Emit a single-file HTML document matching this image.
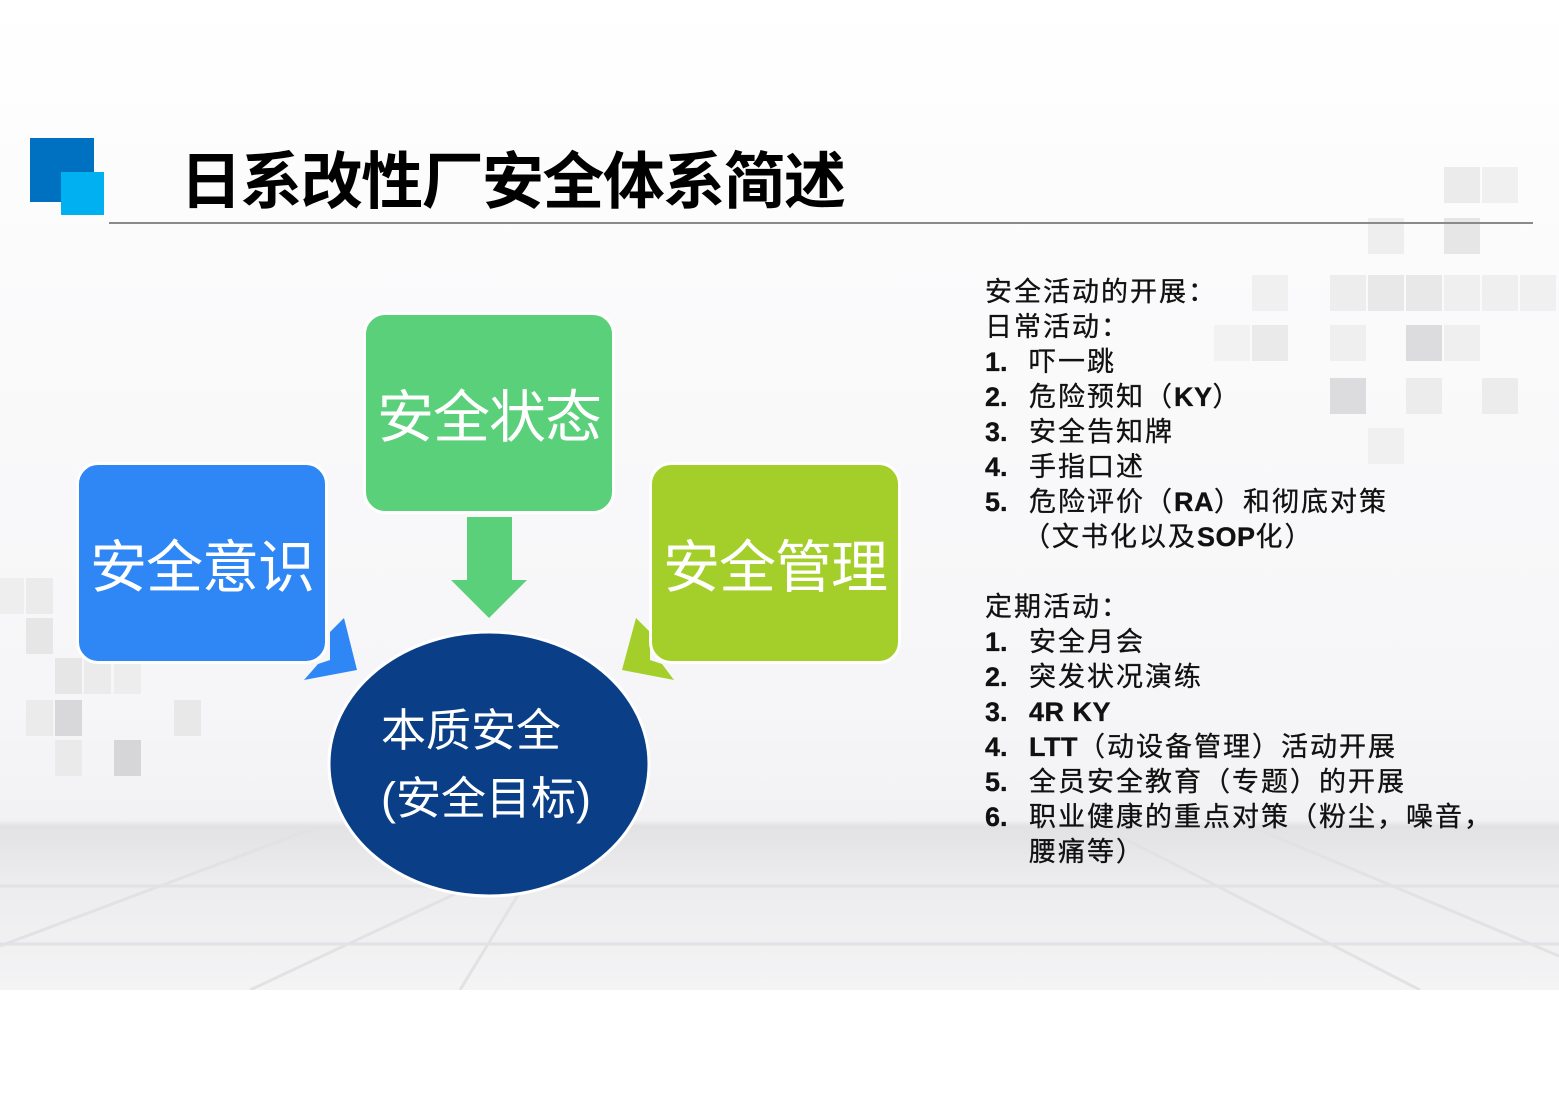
<!DOCTYPE html>
<html><head><meta charset="utf-8"><style>
*{margin:0;padding:0}
body{width:1559px;height:1102px;position:relative;overflow:hidden;background:#fff;font-family:"Liberation Sans","Noto Sans CJK SC",sans-serif}
.a{position:absolute}
.sq{position:absolute;width:36px;height:36px}
.box{position:absolute;width:246px;height:196px;border-radius:22px;border:3px solid #fff;color:#fff;font-size:57px;display:flex;align-items:center;justify-content:center;white-space:nowrap;letter-spacing:-1px}
.t{position:absolute;left:985px;font-size:27px;line-height:35px;color:#111;white-space:nowrap;letter-spacing:2px;-webkit-text-stroke:0.3px #111}
.t b{display:inline-block;width:44px;font-weight:bold;letter-spacing:0}
.t i{display:inline-block;width:38px}
.t .k{font-weight:bold;letter-spacing:0.5px}
</style></head><body>
<div class="a" style="left:0;top:0;width:1559px;height:990px;background:linear-gradient(#fff 0,#fbfbfc 250px,#f6f6f8 700px,#f2f2f4 820px,#e2e2e4 826px,#ececee 880px,#f4f4f5 990px)"></div>
<svg class="a" style="left:0;top:826px" width="1559" height="164">
<g stroke="#e2e2e4" stroke-width="3" fill="none">
<line x1="0" y1="60" x2="1559" y2="60"/><line x1="0" y1="118" x2="1559" y2="118"/>
<line x1="0" y1="120" x2="320" y2="0"/><line x1="250" y1="164" x2="600" y2="0"/><line x1="460" y1="164" x2="560" y2="0"/>
<line x1="1100" y1="0" x2="1420" y2="164"/><line x1="1250" y1="0" x2="1559" y2="130"/>
</g></svg>
<div class="sq" style="left:1444px;top:167px;background:#ebebec"></div>
<div class="sq" style="left:1482px;top:167px;background:#f0f0f1"></div>
<div class="sq" style="left:1368px;top:218px;background:#eeeeef"></div>
<div class="sq" style="left:1444px;top:218px;background:#e6e6e7"></div>
<div class="sq" style="left:1252px;top:275px;background:#f0f0f1"></div>
<div class="sq" style="left:1330px;top:275px;background:#ededee"></div>
<div class="sq" style="left:1368px;top:275px;background:#e8e8e9"></div>
<div class="sq" style="left:1406px;top:275px;background:#e8e8e9"></div>
<div class="sq" style="left:1444px;top:275px;background:#efeff0"></div>
<div class="sq" style="left:1482px;top:275px;background:#efeff0"></div>
<div class="sq" style="left:1520px;top:275px;background:#f0f0f1"></div>
<div class="sq" style="left:1214px;top:325px;background:#f2f2f3"></div>
<div class="sq" style="left:1252px;top:325px;background:#eaeaeb"></div>
<div class="sq" style="left:1330px;top:325px;background:#efeff0"></div>
<div class="sq" style="left:1406px;top:325px;background:#dcdcde"></div>
<div class="sq" style="left:1444px;top:325px;background:#efeff0"></div>
<div class="sq" style="left:1330px;top:378px;background:#dcdcde"></div>
<div class="sq" style="left:1406px;top:378px;background:#ececed"></div>
<div class="sq" style="left:1482px;top:378px;background:#ececed"></div>
<div class="sq" style="left:1368px;top:428px;background:#f0f0f1"></div>
<div class="sq" style="left:0;top:578px;width:24px;background:#eeeeef"></div>
<div class="sq" style="left:26px;top:578px;width:27px;background:#ebebec"></div>
<div class="sq" style="left:26px;top:618px;width:27px;background:#e6e6e7"></div>
<div class="sq" style="left:55px;top:658px;width:27px;background:#e6e6e7"></div>
<div class="sq" style="left:84px;top:658px;width:27px;background:#ebebec"></div>
<div class="sq" style="left:114px;top:658px;width:27px;background:#ededee"></div>
<div class="sq" style="left:26px;top:700px;width:27px;background:#ebebec"></div>
<div class="sq" style="left:55px;top:700px;width:27px;background:#d8d8da"></div>
<div class="sq" style="left:174px;top:700px;width:27px;background:#e8e8e9"></div>
<div class="sq" style="left:55px;top:740px;width:27px;background:#eaeaeb"></div>
<div class="sq" style="left:114px;top:740px;width:27px;background:#d6d6d8"></div>
<div class="a" style="left:30px;top:138px;width:64px;height:64px;background:#0070c0"></div>
<div class="a" style="left:61px;top:172px;width:43px;height:43px;background:#00b0f0"></div>
<div class="a" style="left:180px;top:147px;font-size:62px;font-weight:bold;letter-spacing:-1.6px;color:#000;line-height:72px;white-space:nowrap">日系改性厂安全体系简述</div>
<div class="a" style="left:109px;top:222px;width:1424px;height:2px;background:#8a8a8a"></div>
<svg class="a" style="left:0;top:0" width="960" height="920">
<polygon points="467,517 512,517 512,580 527,580 489,618 451,580 467,580" fill="#5bd07a"/>
<polygon points="344,618 357,670 304,680 318,664 330,660 330,632" fill="#2f86f5"/>
<polygon points="636,618 650,632 650,660 662,664 674,680 622,670" fill="#a4cf2a"/>
<ellipse cx="489" cy="764" rx="160" ry="132" fill="#0a3f87" stroke="#fff" stroke-width="3"/>
</svg>
<div class="box" style="left:76px;top:462px;background:#2f86f5">安全意识</div>
<div class="box" style="left:363px;top:312px;background:#5bd07a">安全状态</div>
<div class="box" style="left:649px;top:462px;background:#a4cf2a">安全管理</div>
<div class="a" style="left:381px;top:697px;color:#fff;font-size:45px;line-height:68px;white-space:nowrap">本质安全<br>(安全目标)</div>
<div class="t" style="top:275px">安全活动的开展：<br>日常活动：<br><b>1.</b>吓一跳<br><b>2.</b>危险预知（<span class="k">KY</span>）<br><b>3.</b>安全告知牌<br><b>4.</b>手指口述<br><b>5.</b>危险评价（<span class="k">RA</span>）和彻底对策<br><i></i>（文书化以及<span class="k">SOP</span>化）</div>
<div class="t" style="top:590px">定期活动：<br><b>1.</b>安全月会<br><b>2.</b>突发状况演练<br><b>3.</b><span class="k">4R KY</span><br><b>4.</b><span class="k">LTT</span>（动设备管理）活动开展<br><b>5.</b>全员安全教育（专题）的开展<br><b>6.</b>职业健康的重点对策（粉尘，噪音，<br><b></b>腰痛等）</div>
</body></html>
